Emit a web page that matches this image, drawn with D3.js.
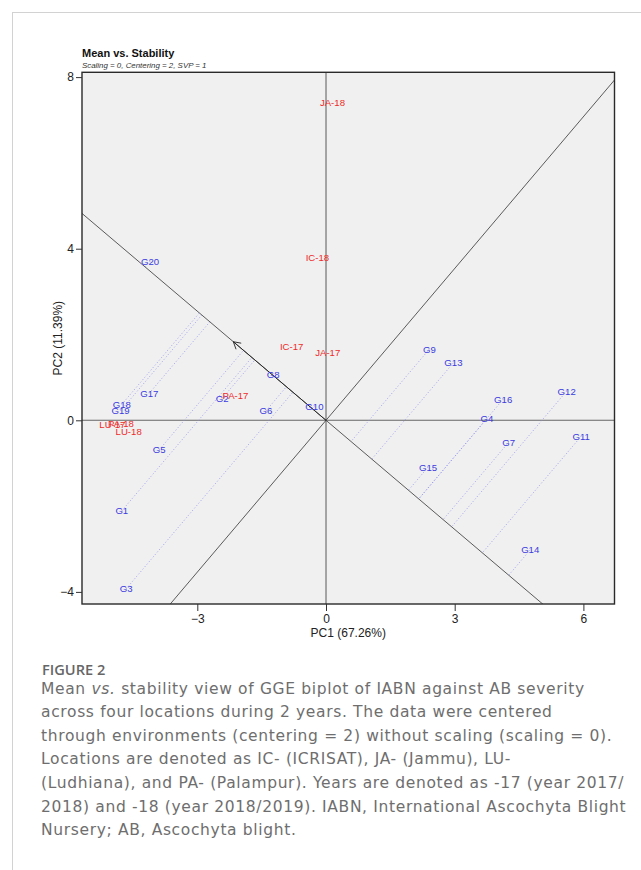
<!DOCTYPE html>
<html>
<head>
<meta charset="utf-8">
<script src="https://cdn.jsdelivr.net/npm/d3@7"></script>
<style>
    body { margin: 0; background: #fff; }
    svg { display: block; }
</style>
</head>
<body>
<svg id="chart"></svg>
<script>
// genotype scores (PC1, PC2)
const genotypes = ["G1","G2","G3","G4","G5","G6","G7","G8","G9","G10",
                   "G11","G12","G13","G14","G15","G16","G17","G18","G19","G20"]
const genoPC1 = [-4.76, -2.42, -4.66, 3.75, -3.89, -1.40, 4.26, -1.23, 2.41, -0.27,
                 5.95, 5.61, 2.97, 4.76, 2.38, 4.13, -4.12, -4.76, -4.79, -4.10]
const genoPC2 = [-2.11, 0.51, -3.93, 0.04, -0.69, 0.22, -0.51, 1.06, 1.66, 0.32,
                 -0.37, 0.68, 1.34, -3.02, -1.09, 0.49, 0.63, 0.37, 0.22, 3.71]

// environment scores
const environments = ["IC-17","IC-18","JA-17","JA-18","LU-17","LU-18","PA-17","PA-18"]
const envPC1 = [-0.80, -0.20, 0.04, 0.15, -4.98, -4.60, -2.11, -4.78]
const envPC2 = [1.73, 3.80, 1.58, 7.40, -0.09, -0.26, 0.57, -0.08]

const xTicks = [-3, 0, 3, 6]
const yTicks = [-4, 0, 4, 8]

const title = "Mean vs. Stability"
const subtitle = "Scaling = 0, Centering = 2, SVP = 1"
const xLabel = "PC1 (67.26%)"
const yLabel = "PC2 (11.39%)"

const width = 641, height = 870
const panel = { left: 82, right: 614.5, top: 72.3, bottom: 604 }
const blue = "#3b3be0", red = "#ee2a2a"

const svg = d3.select("#chart").attr("width", width).attr("height", height)

// page frame lines
svg.append("line").attr("x1", 12).attr("x2", width).attr("y1", 12.5).attr("y2", 12.5)
    .attr("stroke", "#d2d2d2")
svg.append("line").attr("x1", 12.5).attr("x2", 12.5).attr("y1", 12).attr("y2", height)
    .attr("stroke", "#d2d2d2")

const xScale = d3.scaleLinear().domain([-5.688, 6.725]).range([panel.left, panel.right])
const yScale = d3.scaleLinear().domain([-4.282, 8.112]).range([panel.bottom, panel.top])

svg.append("defs").append("clipPath").attr("id", "clip")
    .append("rect")
    .attr("x", panel.left).attr("y", panel.top)
    .attr("width", panel.right - panel.left).attr("height", panel.bottom - panel.top)

svg.append("rect")
    .attr("x", panel.left).attr("y", panel.top)
    .attr("width", panel.right - panel.left).attr("height", panel.bottom - panel.top)
    .attr("fill", "#f0f0f0")

const plot = svg.append("g").attr("clip-path", "url(#clip)")

// axes through origin
plot.append("line")
    .attr("x1", panel.left).attr("x2", panel.right)
    .attr("y1", yScale(0)).attr("y2", yScale(0))
    .attr("stroke", "#666").attr("stroke-width", 1.1)
plot.append("line")
    .attr("x1", xScale(0)).attr("x2", xScale(0))
    .attr("y1", panel.top).attr("y2", panel.bottom)
    .attr("stroke", "#666").attr("stroke-width", 1.1)

// average environment coordinate
const meanX = d3.mean(envPC1), meanY = d3.mean(envPC2)
const len = Math.hypot(meanX, meanY)
const ux = meanX / len, uy = meanY / len

// ATC abscissa and ordinate
const big = 30
plot.append("line")
    .attr("x1", xScale(-ux * big)).attr("y1", yScale(-uy * big))
    .attr("x2", xScale(ux * big)).attr("y2", yScale(uy * big))
    .attr("stroke", "#333").attr("stroke-width", 0.8)
plot.append("line")
    .attr("x1", xScale(uy * big)).attr("y1", yScale(-ux * big))
    .attr("x2", xScale(-uy * big)).attr("y2", yScale(ux * big))
    .attr("stroke", "#333").attr("stroke-width", 0.8)

// projections of genotypes onto the ATC abscissa
const geno = genotypes.map((g, i) => ({ name: g, x: genoPC1[i], y: genoPC2[i] }))
plot.append("g").selectAll("line")
    .data(geno)
    .join("line")
    .attr("x1", d => xScale(d.x)).attr("y1", d => yScale(d.y))
    .attr("x2", d => xScale((d.x * ux + d.y * uy) * ux))
    .attr("y2", d => yScale((d.x * ux + d.y * uy) * uy))
    .attr("stroke", "#8c8cee").attr("stroke-width", 0.8)
    .attr("stroke-dasharray", "1,2.2")

// arrow to average environment
const tipX = xScale(meanX), tipY = yScale(meanY)
plot.append("line")
    .attr("x1", xScale(0)).attr("y1", yScale(0))
    .attr("x2", tipX).attr("y2", tipY)
    .attr("stroke", "#222").attr("stroke-width", 0.9)
const ang = Math.atan2(yScale(0) - tipY, xScale(0) - tipX)
const headLen = 8, headAng = Math.PI / 6
plot.append("path")
    .attr("d", `M${tipX + headLen * Math.cos(ang - headAng)},${tipY + headLen * Math.sin(ang - headAng)}
                L${tipX},${tipY}
                L${tipX + headLen * Math.cos(ang + headAng)},${tipY + headLen * Math.sin(ang + headAng)}`)
    .attr("fill", "none").attr("stroke", "#222").attr("stroke-width", 0.9)

// labels
plot.append("g").selectAll("text")
    .data(geno)
    .join("text")
    .attr("x", d => xScale(d.x)).attr("y", d => yScale(d.y))
    .attr("dy", "0.36em")
    .attr("text-anchor", "middle")
    .attr("font-family", "Liberation Sans, Arial, sans-serif")
    .attr("font-size", 9.6)
    .attr("fill", blue)
    .text(d => d.name)

const env = environments.map((e, i) => ({ name: e, x: envPC1[i], y: envPC2[i] }))
plot.append("g").selectAll("text")
    .data(env)
    .join("text")
    .attr("x", d => xScale(d.x)).attr("y", d => yScale(d.y))
    .attr("dy", "0.36em")
    .attr("text-anchor", "middle")
    .attr("font-family", "Liberation Sans, Arial, sans-serif")
    .attr("font-size", 9.6)
    .attr("fill", red)
    .text(d => d.name)

// frame
svg.append("rect")
    .attr("x", panel.left).attr("y", panel.top)
    .attr("width", panel.right - panel.left).attr("height", panel.bottom - panel.top)
    .attr("fill", "none").attr("stroke", "#2a2a2a").attr("stroke-width", 1.4)

// axes
const xAxis = svg.append("g")
    .attr("transform", `translate(0,${panel.bottom})`)
    .call(d3.axisBottom(xScale).tickValues(xTicks).tickSize(7).tickPadding(3))
const yAxis = svg.append("g")
    .attr("transform", `translate(${panel.left},0)`)
    .call(d3.axisLeft(yScale).tickValues(yTicks).tickSize(6).tickPadding(2))
for (const ax of [xAxis, yAxis]) {
    ax.select(".domain").remove()
    ax.selectAll("line").attr("stroke", "#333")
    ax.selectAll("text")
        .attr("font-family", "Liberation Sans, Arial, sans-serif")
        .attr("font-size", 12).attr("fill", "#222")
}

svg.append("text")
    .attr("x", (panel.left + panel.right) / 2).attr("y", 637)
    .attr("text-anchor", "middle")
    .attr("font-family", "Liberation Sans, Arial, sans-serif")
    .attr("font-size", 12).attr("fill", "#222")
    .text(xLabel)
svg.append("text")
    .attr("transform", `translate(62,${(panel.top + panel.bottom) / 2}) rotate(-90)`)
    .attr("text-anchor", "middle")
    .attr("font-family", "Liberation Sans, Arial, sans-serif")
    .attr("font-size", 12).attr("fill", "#222")
    .text(yLabel)

// title
svg.append("text")
    .attr("x", panel.left).attr("y", 57)
    .attr("font-family", "Liberation Sans, Arial, sans-serif")
    .attr("font-size", 11).attr("font-weight", "bold").attr("fill", "#111")
    .text(title)
svg.append("text")
    .attr("x", panel.left).attr("y", 68.3)
    .attr("font-family", "Liberation Sans, Arial, sans-serif")
    .attr("font-size", 7.9).attr("font-style", "italic").attr("fill", "#333")
    .text(subtitle)

// caption
svg.append("text")
    .attr("x", 42).attr("y", 675)
    .attr("font-family", "Open Sans, sans-serif")
    .attr("font-size", 14.6).attr("font-weight", 600).attr("fill", "#666")
    .text("FIGURE 2")

const captionLines = [
    [["Mean "], ["vs.", true], [" stability view of GGE biplot of IABN against AB severity"]],
    [["across four locations during 2 years. The data were centered"]],
    [["through environments (centering = 2) without scaling (scaling = 0)."]],
    [["Locations are denoted as IC- (ICRISAT), JA- (Jammu), LU-"]],
    [["(Ludhiana), and PA- (Palampur). Years are denoted as -17 (year 2017/"]],
    [["2018) and -18 (year 2018/2019). IABN, International Ascochyta Blight"]],
    [["Nursery; AB, Ascochyta blight."]]
]
const caption = svg.append("text")
    .attr("font-family", "DejaVu Sans, sans-serif")
    .attr("font-size", 15.5).attr("font-weight", 400)
    .attr("letter-spacing", 0.65).attr("fill", "#6e6e6e")
captionLines.forEach((parts, i) => {
    parts.forEach((p, j) => {
        const t = caption.append("tspan").text(p[0])
        if (j === 0) t.attr("x", 41).attr("y", 693.5 + i * 23.6)
        if (p[1]) t.attr("font-style", "italic")
    })
})
</script>
</body>
</html>
